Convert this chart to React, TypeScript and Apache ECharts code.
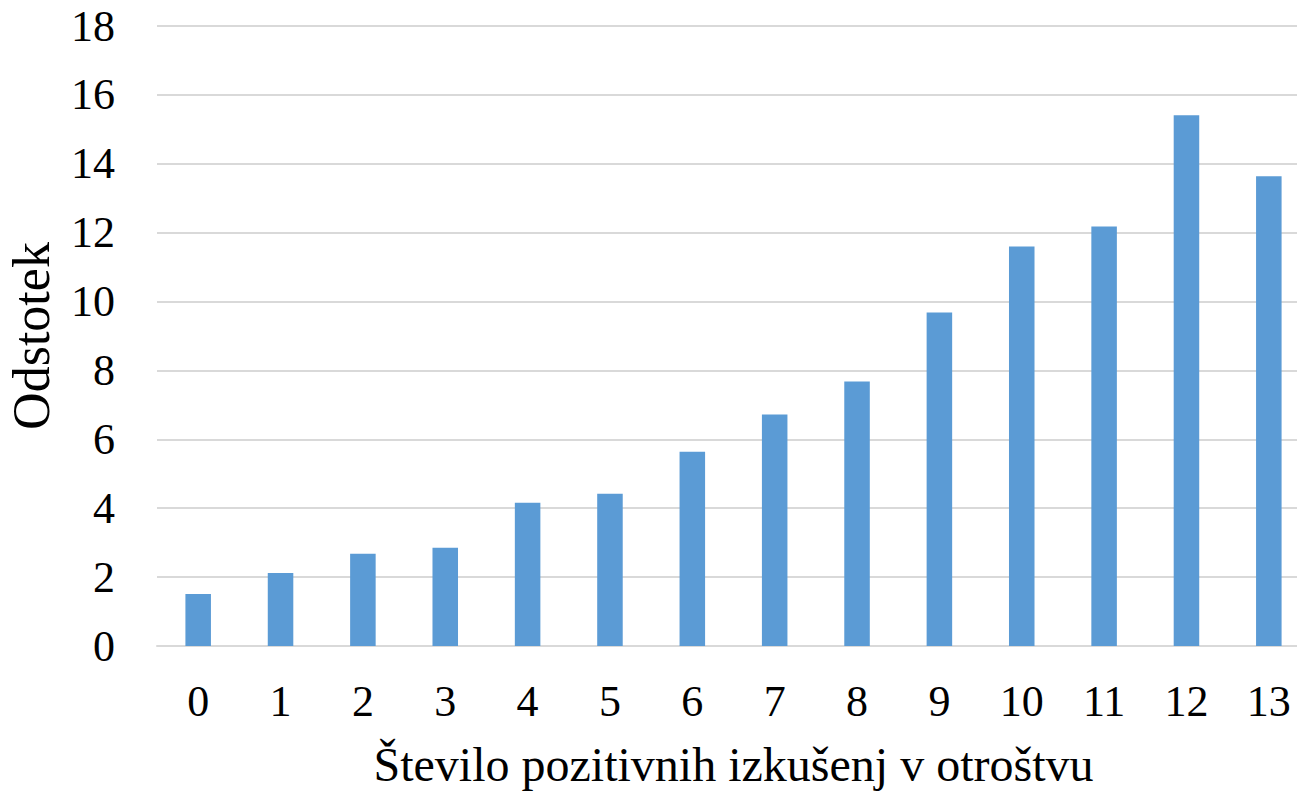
import React, { useEffect, useRef } from "react";
import * as echarts from "echarts";

const categories = ["0", "1", "2", "3", "4", "5", "6", "7", "8", "9", "10", "11", "12", "13"];
const values = [1.51, 2.12, 2.68, 2.85, 4.16, 4.42, 5.64, 6.72, 7.68, 9.68, 11.6, 12.18, 15.41, 13.64];
const xTitle = "Število pozitivnih izkušenj v otroštvu";
const yTitle = "Odstotek";

export default function App() {
  const ref = useRef<HTMLDivElement>(null);
  useEffect(() => {
    if (!ref.current) return;
    const chart = echarts.init(ref.current, undefined, { renderer: "svg" });
    const font = "'Liberation Serif', 'Times New Roman', serif";
    chart.setOption({
      animation: false,
      backgroundColor: "#ffffff",
      grid: { left: 157, right: 0, top: 26, bottom: 145, outerBoundsMode: "none", containLabel: false },
      xAxis: {
        type: "category",
        data: categories,
        axisLine: { show: true, lineStyle: { color: "#d9d9d9", width: 2 } },
        axisTick: { show: false },
        axisLabel: { color: "#000", fontFamily: font, fontSize: 44, margin: 33 },
        name: xTitle,
        nameLocation: "middle",
        nameGap: 94,
        nameTextStyle: { color: "#000", fontFamily: font, fontSize: 48 },
      },
      yAxis: {
        type: "value",
        min: 0,
        max: 18,
        interval: 2,
        axisLine: { show: false },
        axisTick: { show: false },
        splitLine: { lineStyle: { color: "#d9d9d9", width: 2 } },
        axisLabel: { color: "#000", fontFamily: font, fontSize: 44, margin: 42 },
        name: yTitle,
        nameLocation: "middle",
        nameGap: 100,
        nameRotate: 90,
        nameTextStyle: { color: "#000", fontFamily: font, fontSize: 52 },
      },
      series: [
        {
          type: "bar",
          data: values,
          barWidth: "31%",
          itemStyle: { color: "#5b9bd5" },
        },
      ],
    });
    return () => chart.dispose();
  }, []);
  return (
    <div style={{ position: "absolute", left: 0, top: 0, width: 1297, height: 791, overflow: "hidden", background: "#fff" }}>
      <div ref={ref} style={{ width: 1310, height: 791 }} />
    </div>
  );
}
